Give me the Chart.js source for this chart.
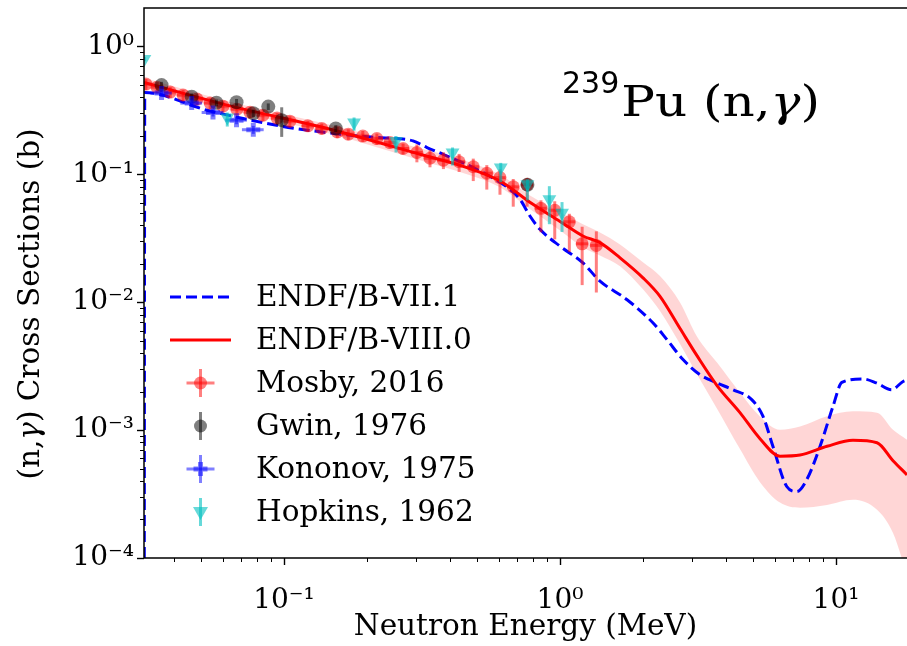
<!DOCTYPE html>
<html><head><meta charset="utf-8">
<script src="https://cdn.jsdelivr.net/npm/chart.js@4.4.1/dist/chart.umd.min.js"></script>
<style>html,body{margin:0;padding:0;background:#fff;}#wrap{width:907px;height:646px;}</style>
</head><body><div id="wrap"><canvas id="c" width="907" height="646"></canvas></div>
<script>
// ---------- data ----------
// ENDF/B-VIII.0 evaluation and its uncertainty band (energies in MeV, cross sections in b)
const viii0E  = [0.0311,0.0637,0.147,0.311,0.460,0.606,0.798,1.0,1.211,1.396,1.650,1.998,2.303,2.722,3.135,3.706,4.488,5.304,6.267,7.405,9.278,11.52,14.08,16.09,18.08];
const viii0XS = [0.522,0.3425,0.2251,0.1434,0.1128,0.0886,0.0582,0.0428,0.0329,0.0292,0.0222,0.0155,0.0111,0.00622,0.00382,0.00223,0.00137,0.000857,0.000625,0.000638,0.000747,0.000832,0.000797,0.000576,0.000447];
const viii0Hi = [0.5646,0.3695,0.2441,0.1598,0.1264,0.0991,0.0660,0.0504,0.0406,0.0351,0.0283,0.0205,0.0160,0.00995,0.00539,0.00337,0.00196,0.00128,0.001007,0.001069,0.001285,0.001401,0.001368,0.001007,0.000841];
const viii0Lo = [0.4800,0.3172,0.2076,0.1287,0.1000,0.0791,0.0513,0.0364,0.0268,0.0232,0.0191,0.0126,0.00853,0.00470,0.00273,0.00147,0.000710,0.000391,0.000271,0.000247,0.000260,0.000285,0.000238,0.000157,0.0000738];
// ENDF/B-VII.1 evaluation
const vii1E  = [0.03115,0.0313,0.0526,0.0967,0.1274,0.1595,0.2173,0.2566,0.2934,0.3297,0.3768,0.526,0.659,0.716,0.778,0.846,1.0,1.211,1.396,1.745,2.17,2.44,2.79,3.21,3.70,4.23,4.95,5.44,5.91,6.63,7.21,7.83,8.75,9.75,10.5,12.5,14.0,15.9,17.5,18.5];
const vii1XS = [0.00001,0.436,0.317,0.2388,0.2183,0.2057,0.1938,0.1904,0.1823,0.1618,0.1434,0.1031,0.0763,0.0637,0.0472,0.0371,0.0274,0.0203,0.0146,0.0105,0.0069,0.0051,0.00356,0.00272,0.00234,0.00207,0.00173,0.00128,0.000745,0.000362,0.000331,0.000409,0.000745,0.00153,0.00236,0.00251,0.00234,0.00207,0.0024,0.0025];
// Mosby, 2016
const mosbyE   = [0.0316,0.0347,0.0387,0.0431,0.0484,0.0540,0.0601,0.0675,0.0753,0.0839,0.0944,0.105,0.122,0.137,0.156,0.171,0.193,0.217,0.242,0.270,0.303,0.338,0.378,0.431,0.485,0.543,0.606,0.677,0.760,0.853,0.957,1.081,1.203,1.354];
const mosbyEErr= [0.0016,0.0017,0.0019,0.0022,0.0024,0.0027,0.0030,0.0034,0.0038,0.0042,0.0047,0.0053,0.0061,0.0069,0.0078,0.0086,0.0097,0.011,0.012,0.014,0.015,0.017,0.019,0.022,0.024,0.027,0.030,0.034,0.038,0.043,0.048,0.054,0.060,0.068];
const mosbyXS  = [0.507,0.480,0.439,0.416,0.387,0.360,0.341,0.323,0.306,0.290,0.275,0.260,0.239,0.228,0.214,0.206,0.199,0.190,0.177,0.159,0.148,0.1334,0.1288,0.1253,0.1145,0.1019,0.0942,0.0798,0.0828,0.0542,0.0523,0.0425,0.0286,0.0278];
const mosbyErrLo=[0.052,0.049,0.045,0.043,0.040,0.037,0.035,0.033,0.031,0.030,0.028,0.027,0.025,0.023,0.022,0.021,0.020,0.020,0.018,0.016,0.024,0.020,0.019,0.021,0.026,0.026,0.025,0.024,0.027,0.019,0.0213,0.0178,0.0150,0.0159];
const mosbyErrHi=[0.048,0.045,0.041,0.039,0.036,0.034,0.032,0.030,0.029,0.027,0.026,0.024,0.022,0.021,0.020,0.019,0.019,0.018,0.017,0.015,0.023,0.021,0.020,0.019,0.018,0.016,0.015,0.012,0.011,0.0084,0.0092,0.0066,0.0103,0.0080];
// Gwin, 1976
const gwinE   = [0.0360,0.0463,0.0569,0.0673,0.0774,0.0877,0.0981,0.154,0.762];
const gwinXS  = [0.498,0.404,0.362,0.366,0.300,0.338,0.265,0.228,0.0828];
const gwinErr = [0.030,0.025,0.022,0.022,0.020,0.020,0.069,0.014,0.006];
// Kononov, 1975
const kononovE   = [0.0360,0.0463,0.0553,0.0673,0.0774];
const kononovEErr= [0.0032,0.0042,0.0050,0.0061,0.0070];
const kononovXS  = [0.431,0.360,0.304,0.265,0.223];
const kononovErr = [0.030,0.025,0.021,0.019,0.016];
// Hopkins, 1962
const hopkinsE    = [0.0312,0.0623,0.1794,0.2546,0.408,0.610,0.762,0.915,1.017];
const hopkinsXS   = [0.795,0.278,0.254,0.182,0.148,0.1128,0.0835,0.0637,0.0501];
const hopkinsErrLo= [0.030,0.042,0.035,0.034,0.031,0.026,0.021,0.023,0.0147];
const hopkinsErrHi= [0.030,0.026,0.024,0.017,0.014,0.010,0.008,0.017,0.0105];
// axis tick labels and texts
const xTickLabels = {'-1':'10⁻¹','0':'10⁰','1':'10¹'};
const yTickLabels = {'-4':'10⁻⁴','-3':'10⁻³','-2':'10⁻²','-1':'10⁻¹','0':'10⁰'};
const xTitle = 'Neutron Energy (MeV)';
const yTitleParts = ['(n,', 'γ', ') Cross Sections (b)'];
const legendLabels = ['ENDF/B-VII.1', 'ENDF/B-VIII.0', 'Mosby, 2016', 'Gwin, 1976', 'Kononov, 1975', 'Hopkins, 1962'];

// ---------- helpers ----------
const pts = (xs, ys) => xs.map((x, i) => ({x, y: ys[i]}));
const SERIF = '"DejaVu Serif", serif';
const C_RED = 'rgba(255,0,0,0.5)', C_BLK = 'rgba(0,0,0,0.5)', C_BLU = 'rgba(0,0,255,0.5)', C_CYN = 'rgba(0,191,191,0.6)';

function labelFor(map) {
  return (v) => {
    const l = Math.log10(v), r = Math.round(l);
    return Math.abs(l - r) < 1e-9 && map[String(r)] ? map[String(r)] : null;
  };
}
function noPad(s) { s.paddingTop = 0; s.paddingBottom = 0; s.paddingLeft = 0; s.paddingRight = 0; }

// error bars, drawn through the chart's scales
const errorBars = {
  id: 'errorBars',
  beforeDatasetDraw(chart, args) {
    const ds = chart.data.datasets[args.index];
    if (!ds.err) return;
    const {ctx, chartArea: a, scales: {x, y}} = chart;
    ctx.save();
    ctx.beginPath(); ctx.rect(a.left, a.top, a.right - a.left, a.bottom - a.top); ctx.clip();
    ctx.strokeStyle = ds.err.color; ctx.lineWidth = 3; ctx.lineCap = 'butt';
    ds.data.forEach((p, i) => {
      const px = x.getPixelForValue(p.x), py = y.getPixelForValue(p.y);
      if (ds.err.yLo) {
        ctx.beginPath();
        ctx.moveTo(px, y.getPixelForValue(p.y - ds.err.yLo[i]));
        ctx.lineTo(px, y.getPixelForValue(p.y + ds.err.yHi[i]));
        ctx.stroke();
      }
      if (ds.err.xE) {
        ctx.beginPath();
        ctx.moveTo(x.getPixelForValue(p.x - ds.err.xE[i]), py);
        ctx.lineTo(x.getPixelForValue(p.x + ds.err.xE[i]), py);
        ctx.stroke();
      }
    });
    ctx.restore();
  }
};

// spines, tick marks, y title, legend and annotation
const decor = {
  id: 'decor',
  afterDraw(chart) {
    const {ctx, chartArea: a, scales: {x, y}} = chart;
    ctx.save();
    ctx.strokeStyle = '#000';
    for (let p = -2; p <= 1; p++) for (let k = 1; k <= 9; k++) {
      const v = k * Math.pow(10, p);
      if (v < x.min || v > x.max) continue;
      const px = Math.round(x.getPixelForValue(v)) + 0.5;
      ctx.lineWidth = k === 1 ? 1.4 : 1;
      ctx.beginPath(); ctx.moveTo(px, a.bottom); ctx.lineTo(px, a.bottom + (k === 1 ? 7 : 4)); ctx.stroke();
    }
    for (let p = -4; p <= 0; p++) for (let k = 1; k <= 9; k++) {
      const v = k * Math.pow(10, p);
      if (v < y.min || v > y.max) continue;
      const py = Math.round(y.getPixelForValue(v)) + 0.5;
      ctx.lineWidth = k === 1 ? 1.4 : 1;
      ctx.beginPath(); ctx.moveTo(a.left, py); ctx.lineTo(a.left - (k === 1 ? 7 : 4), py); ctx.stroke();
    }
    ctx.lineWidth = 1.5;
    ctx.beginPath();
    ctx.moveTo(a.right + 2, a.top); ctx.lineTo(a.left, a.top); ctx.lineTo(a.left, a.bottom); ctx.lineTo(a.right + 2, a.bottom);
    ctx.stroke();

    // y axis title, with an italic gamma
    ctx.save();
    ctx.translate(31, 304); ctx.rotate(-Math.PI / 2);
    ctx.fillStyle = '#000'; ctx.textAlign = 'left'; ctx.textBaseline = 'middle';
    const fN = '29.5px ' + SERIF, fI = 'italic 29.5px ' + SERIF;
    const fonts = [fN, fI, fN];
    const widths = yTitleParts.map((t, i) => { ctx.font = fonts[i]; return ctx.measureText(t).width; });
    let tx0 = -widths.reduce((s, w) => s + w, 0) / 2;
    yTitleParts.forEach((t, i) => { ctx.font = fonts[i]; ctx.fillText(t, tx0, 0); tx0 += widths[i]; });
    ctx.restore();

    // legend
    const rows = 43, y0 = 297, hx0 = 170, hx1 = 231, hc = 200.5, tx = 256;
    ctx.font = '29.5px ' + SERIF; ctx.fillStyle = '#000'; ctx.textBaseline = 'middle'; ctx.textAlign = 'left';
    legendLabels.forEach((t, i) => ctx.fillText(t, tx, y0 + i * rows + 1));
    ctx.lineWidth = 3; ctx.strokeStyle = '#0000ff'; ctx.setLineDash([11, 5]);
    ctx.beginPath(); ctx.moveTo(hx0, y0); ctx.lineTo(hx1, y0); ctx.stroke();
    ctx.setLineDash([]); ctx.strokeStyle = '#ff0000';
    ctx.beginPath(); ctx.moveTo(hx0, y0 + rows); ctx.lineTo(hx1, y0 + rows); ctx.stroke();
    const bar = (col, yy, horiz) => {
      ctx.strokeStyle = col; ctx.lineWidth = 3;
      ctx.beginPath(); ctx.moveTo(hc, yy - 14); ctx.lineTo(hc, yy + 14); ctx.stroke();
      if (horiz) { ctx.beginPath(); ctx.moveTo(hc - 14, yy); ctx.lineTo(hc + 14, yy); ctx.stroke(); }
    };
    let yy = y0 + 2 * rows; bar(C_RED, yy, true);
    ctx.fillStyle = C_RED; ctx.beginPath(); ctx.arc(hc, yy, 6.5, 0, 2 * Math.PI); ctx.fill();
    yy = y0 + 3 * rows; bar(C_BLK, yy, false);
    ctx.fillStyle = C_BLK; ctx.beginPath(); ctx.arc(hc, yy, 6.5, 0, 2 * Math.PI); ctx.fill();
    yy = y0 + 4 * rows; bar(C_BLU, yy, true);
    ctx.strokeStyle = C_BLU; ctx.lineWidth = 5;
    ctx.beginPath(); ctx.moveTo(hc - 7, yy); ctx.lineTo(hc + 7, yy); ctx.moveTo(hc, yy - 7); ctx.lineTo(hc, yy + 7); ctx.stroke();
    yy = y0 + 5 * rows; bar(C_CYN, yy, false);
    ctx.fillStyle = C_CYN; ctx.beginPath();
    ctx.moveTo(hc - 7.5, yy - 5); ctx.lineTo(hc + 7.5, yy - 5); ctx.lineTo(hc, yy + 8); ctx.closePath(); ctx.fill();

    // annotation
    ctx.fillStyle = '#000'; ctx.textBaseline = 'alphabetic';
    ctx.font = '30px "DejaVu Sans", sans-serif';
    ctx.fillText('239', 562, 93);
    const x0 = 562 + ctx.measureText('239').width + 2;
    const big = '43px ' + SERIF, bigI = 'italic 43px ' + SERIF;
    ctx.font = big; const w1 = ctx.measureText('Pu (n,').width;
    ctx.font = bigI; const w2 = ctx.measureText('γ').width;
    ctx.font = big; const w3 = ctx.measureText(')').width;
    const sx = (820 - x0) / (w1 + w2 + w3);
    ctx.save(); ctx.translate(x0, 116); ctx.scale(sx, 1);
    ctx.font = big; ctx.fillText('Pu (n,', 0, 0);
    ctx.font = bigI; ctx.fillText('γ', w1, 0);
    ctx.font = big; ctx.fillText(')', w1 + w2, 0);
    ctx.restore();
    ctx.restore();
  }
};

const lineBase = {pointRadius: 0, borderWidth: 3, clip: 0, cubicInterpolationMode: 'monotone'};

new Chart(document.getElementById('c'), {
  type: 'scatter',
  data: {
    datasets: [
      {type: 'line', label: 'band hi', data: pts(viii0E, viii0Hi), pointRadius: 0, borderWidth: 0, borderColor: 'rgba(0,0,0,0)',
       backgroundColor: 'rgba(255,0,0,0.16)', fill: '+1', order: 10, clip: 0, cubicInterpolationMode: 'monotone'},
      {type: 'line', label: 'band lo', data: pts(viii0E, viii0Lo), pointRadius: 0, borderWidth: 0, borderColor: 'rgba(0,0,0,0)',
       fill: false, order: 11, clip: 0, cubicInterpolationMode: 'monotone'},
      Object.assign({type: 'line', label: legendLabels[0], data: pts(vii1E, vii1XS), borderColor: '#0000ff', borderDash: [11, 5], fill: false, order: 6}, lineBase),
      Object.assign({type: 'line', label: legendLabels[1], data: pts(viii0E, viii0XS), borderColor: '#ff0000', fill: false, order: 5}, lineBase),
      {label: legendLabels[2], data: pts(mosbyE, mosbyXS), pointStyle: 'circle', pointRadius: 6.5, backgroundColor: C_RED, borderWidth: 0,
       order: 4, clip: 0, err: {color: C_RED, yLo: mosbyErrLo, yHi: mosbyErrHi, xE: mosbyEErr}},
      {label: legendLabels[3], data: pts(gwinE, gwinXS), pointStyle: 'circle', pointRadius: 7, backgroundColor: C_BLK, borderWidth: 0,
       order: 3, clip: 0, err: {color: C_BLK, yLo: gwinErr, yHi: gwinErr}},
      {label: legendLabels[4], data: pts(kononovE, kononovXS), pointStyle: 'cross', pointRadius: 7, borderColor: C_BLU, borderWidth: 5,
       backgroundColor: C_BLU, order: 2, clip: 0, err: {color: C_BLU, yLo: kononovErr, yHi: kononovErr, xE: kononovEErr}},
      {label: legendLabels[5], data: pts(hopkinsE, hopkinsXS), pointStyle: 'triangle', pointRotation: 180, pointRadius: 8, backgroundColor: C_CYN,
       borderWidth: 0, order: 1, clip: 0, err: {color: C_CYN, yLo: hopkinsErrLo, yHi: hopkinsErrHi}}
    ]
  },
  options: {
    responsive: false, animation: false, events: [],
    layout: {autoPadding: false, padding: {top: 8, right: 0, left: 0, bottom: 0}},
    plugins: {legend: {display: false}, tooltip: {enabled: false}},
    scales: {
      x: {
        type: 'logarithmic', min: 0.0311, max: 18.08,
        grid: {display: false, drawTicks: false}, border: {display: false},
        ticks: {autoSkip: false, maxRotation: 0, padding: 26, color: '#000', font: {family: SERIF, size: 28}, callback: labelFor(xTickLabels)},
        title: {display: true, text: xTitle, color: '#000', font: {family: SERIF, size: 29.5}, padding: {top: 0, bottom: 1}},
        afterFit: (s) => { s.height = 88; noPad(s); }
      },
      y: {
        type: 'logarithmic', min: 0.0001, max: 1.995,
        grid: {display: false, drawTicks: false}, border: {display: false},
        ticks: {autoSkip: false, padding: 10, color: '#000', font: {family: SERIF, size: 28}, callback: labelFor(yTickLabels)},
        title: {display: false, text: yTitleParts.join('')},
        afterFit: (s) => { s.width = 144; noPad(s); }
      }
    }
  },
  plugins: [errorBars, decor]
});
</script></body></html>
